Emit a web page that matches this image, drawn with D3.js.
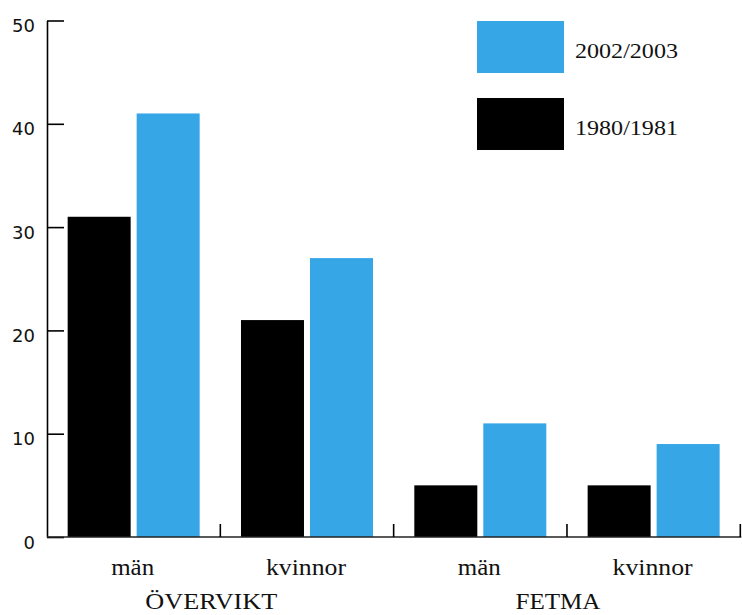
<!DOCTYPE html>
<html>
<head>
<meta charset="utf-8">
<script src="https://cdn.jsdelivr.net/npm/d3@7/dist/d3.min.js"></script>
<style>
  html, body { margin: 0; padding: 0; background: #fff; }
  svg { display: block; }
</style>
</head>
<body>
<svg id="chart" width="742" height="615"></svg>
<script>
// ---- data ----
const categories = ["män", "kvinnor", "män", "kvinnor"];
const groupLabels = ["ÖVERVIKT", "FETMA"];
const seriesNames = ["1980/1981", "2002/2003"];
const values1980 = [31, 21, 5, 5];
const values2002 = [41, 27, 11, 9];
const yTicks = [0, 10, 20, 30, 40, 50];
const colors = ["#000000", "#36a6e6"];

(function () {
const svg = d3.select("#chart");
const mLeft = 47, mRight = 740.3, mTop = 20.5, mBottom = 537;
const serif = "'Liberation Serif', 'Times New Roman', serif";

const y = d3.scaleLinear().domain([0, 50]).range([mBottom, mTop]);
const x = d3.scaleBand().domain(d3.range(categories.length)).range([mLeft, mRight]).padding(0);
const xs = d3.scaleBand().domain([0, 1]).range([0, x.bandwidth()])
  .paddingInner(0.087).paddingOuter(0.2995);

const series = [values1980, values2002];

// bars
series.forEach((vals, si) => {
  svg.append("g").selectAll("rect").data(vals).join("rect")
    .attr("x", (d, i) => x(i) + xs(si))
    .attr("y", d => y(d))
    .attr("width", xs.bandwidth())
    .attr("height", d => y(0) - y(d))
    .attr("fill", colors[si]);
});

// y axis
const yAxis = d3.axisLeft(y).tickValues(yTicks).tickSizeInner(-17).tickSizeOuter(0).tickPadding(12);
const gy = svg.append("g").attr("transform", `translate(${mLeft},0)`).call(yAxis);
gy.select(".domain").attr("stroke", "#000").attr("stroke-width", 1.6);
gy.selectAll(".tick line").attr("stroke", "#000").attr("stroke-width", 1.6);
gy.selectAll(".tick text")
  .attr("font-family", "'DejaVu Sans', sans-serif")
  .attr("font-size", 18)
  .attr("fill", "#111")
  .attr("dy", "0.62em");

// x axis line
svg.append("line")
  .attr("x1", mLeft).attr("x2", mRight + 1)
  .attr("y1", y(0)).attr("y2", y(0))
  .attr("stroke", "#222").attr("stroke-width", 1.6);

// x ticks at group boundaries
svg.append("g").selectAll("line").data(d3.range(categories.length)).join("line")
  .attr("x1", i => x(i) + x.step())
  .attr("x2", i => x(i) + x.step())
  .attr("y1", y(0)).attr("y2", y(0) - 13)
  .attr("stroke", "#000").attr("stroke-width", 1.6);

// category labels
svg.append("g").selectAll("text").data(categories).join("text")
  .attr("x", (d, i) => x(i) + x.bandwidth() / 2 - 1)
  .attr("y", 575)
  .attr("text-anchor", "middle")
  .attr("font-family", serif)
  .attr("font-size", 24)
  .attr("textLength", d => d === "män" ? 43 : 80)
  .attr("lengthAdjust", "spacingAndGlyphs")
  .attr("fill", "#111")
  .text(d => d);

// group labels
svg.append("g").selectAll("text").data(groupLabels).join("text")
  .attr("x", (d, g) => x(g * 2) + x.step() - 9)
  .attr("y", 609)
  .attr("text-anchor", "middle")
  .attr("font-family", serif)
  .attr("font-size", 23)
  .attr("textLength", (d, g) => g === 0 ? 132 : 85)
  .attr("lengthAdjust", "spacingAndGlyphs")
  .attr("fill", "#111")
  .text(d => d);

// legend
const legendOrder = [1, 0];
const lg = svg.append("g");
legendOrder.forEach((si, k) => {
  const ly = 21 + k * 77;
  lg.append("rect").attr("x", 477).attr("y", ly).attr("width", 87).attr("height", 52).attr("fill", colors[si]);
  lg.append("text").attr("x", 575).attr("y", ly + 37)
    .attr("font-family", serif)
    .attr("font-size", 22)
    .attr("textLength", 103)
    .attr("lengthAdjust", "spacingAndGlyphs")
    .attr("fill", "#111")
    .text(seriesNames[si]);
});
})();
</script>
</body>
</html>
